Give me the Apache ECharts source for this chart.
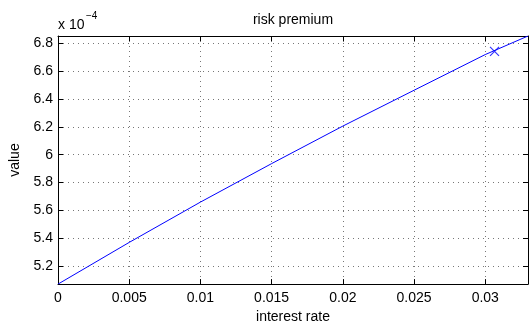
<!DOCTYPE html>
<html><head><meta charset="utf-8">
<script src="https://cdn.jsdelivr.net/npm/echarts@6/dist/echarts.min.js"></script>
<style>html,body{margin:0;padding:0;background:#fff}#c{width:529px;height:329px}</style>
</head><body><div id="c"></div>
<script>
const rates = [0, 0.005, 0.01, 0.015, 0.02, 0.025, 0.03, 0.033];
const premium = [5.072e-4, 5.371e-4, 5.660e-4, 5.936e-4, 6.205e-4, 6.462e-4, 6.718e-4, 6.851e-4];
const markerRate = [0.03065];
const markerValue = [6.741e-4];
const xTicks = [0, 0.005, 0.01, 0.015, 0.02, 0.025, 0.03];
const yTicks = [5.2e-4, 5.4e-4, 5.6e-4, 5.8e-4, 6.0e-4, 6.2e-4, 6.4e-4, 6.6e-4, 6.8e-4];
const titleText = 'risk premium';
const xName = 'interest rate';
const yName = 'value';

const FONT = '"Liberation Sans", Arial, Helvetica, sans-serif';
const xMin = 0, xMax = 0.033, yMin = 5.072e-4, yMax = 6.851e-4;

const chart = echarts.init(document.getElementById('c'), null, {renderer: 'canvas'});
const gridStyle = {show: true, lineStyle: {color: '#777', type: [1, 4], width: 1}};
const axLine = {show: true, onZero: false, lineStyle: {color: '#000', width: 1}};
const tick = (vals) => ({show: true, inside: true, length: 5, lineStyle: {color: '#000'}, customValues: vals});
const fmtY = v => String(parseFloat((v * 1e4).toFixed(1)));

chart.setOption({
  animation: false,
  grid: {left: 58, right: 1, top: 36, bottom: 39, containLabel: false},
  graphic: [
    {type: 'text', style: {text: titleText, font: '14px ' + FONT, fill: '#000', x: 293, y: 20, textAlign: 'center', textVerticalAlign: 'middle'}},
    {type: 'text', style: {text: 'x 10', font: '14px ' + FONT, fill: '#000', x: 58, y: 25, textAlign: 'left', textVerticalAlign: 'middle'}},
    {type: 'text', style: {text: '\u22124', font: '10px ' + FONT, fill: '#000', x: 86, y: 16, textAlign: 'left', textVerticalAlign: 'middle'}}
  ],
  xAxis: [
    {type: 'value', min: xMin, max: xMax, position: 'bottom',
     name: xName, nameLocation: 'middle', nameGap: 23,
     nameTextStyle: {fontSize: 14, fontFamily: FONT, color: '#000'},
     axisLine: axLine, axisTick: tick(xTicks), splitLine: gridStyle,
     axisLabel: {customValues: xTicks, fontSize: 14, fontFamily: FONT, color: '#000', margin: 7, formatter: v => String(v)}},
    {type: 'value', min: xMin, max: xMax, position: 'top',
     axisLine: axLine, axisTick: tick(xTicks), splitLine: {show: false}, axisLabel: {show: false}}
  ],
  yAxis: [
    {type: 'value', min: yMin, max: yMax, position: 'left',
     name: yName, nameLocation: 'middle', nameGap: 28,
     nameTextStyle: {fontSize: 14, fontFamily: FONT, color: '#000'},
     axisLine: axLine, axisTick: tick(yTicks), splitLine: gridStyle,
     axisLabel: {customValues: yTicks, fontSize: 14, fontFamily: FONT, color: '#000', margin: 5, formatter: fmtY}},
    {type: 'value', min: yMin, max: yMax, position: 'right',
     axisLine: axLine, axisTick: tick(yTicks), splitLine: {show: false}, axisLabel: {show: false}}
  ],
  series: [
    {type: 'line', data: rates.map((r, i) => [r, premium[i]]), showSymbol: false,
     lineStyle: {color: '#0000ff', width: 1}, itemStyle: {color: '#0000ff'}, z: 5},
    {type: 'scatter', data: markerRate.map((r, i) => [r, markerValue[i]]),
     symbol: 'path://M0,0L10,10M10,0L0,10', symbolSize: 9,
     itemStyle: {color: 'none', borderColor: '#0000ff', borderWidth: 1.2}, z: 6}
  ]
});
</script></body></html>
